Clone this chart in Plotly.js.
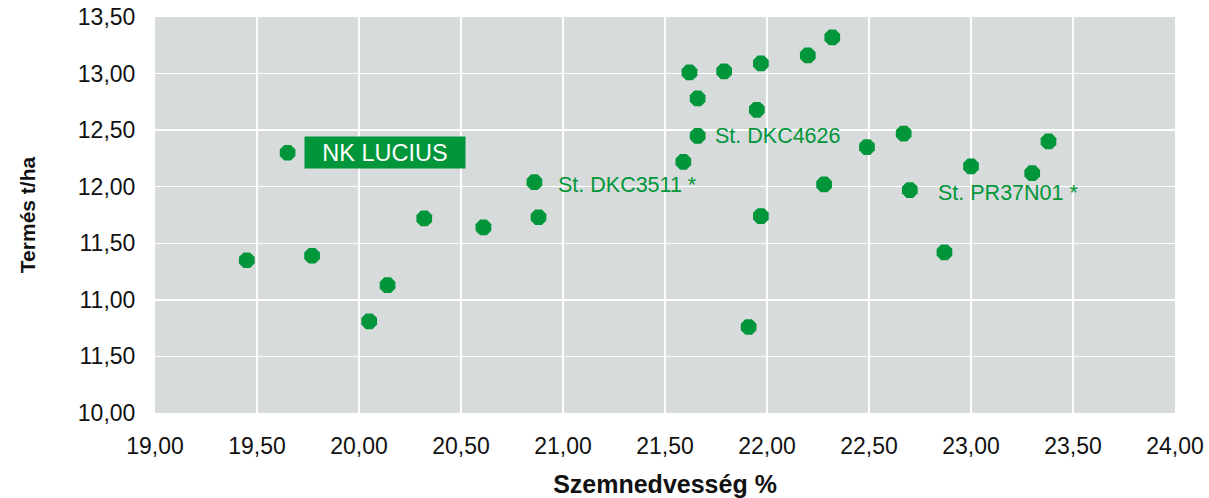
<!DOCTYPE html>
<html>
<head>
<meta charset="utf-8">
<script src="https://cdn.plot.ly/plotly-3.0.1.min.js"></script>
<style>html,body{margin:0;padding:0;background:#fff;}#chart{width:1209px;height:498px;}</style>
</head>
<body>
<div id="chart"></div>
<script>
// Szemnedvesség % (x) and Termés t/ha (y) per hybrid
const moisture = [19.45, 19.77, 19.65, 20.05, 20.14, 20.32, 20.61, 20.86, 20.88,
  21.59, 21.62, 21.79, 21.97, 21.66, 21.95, 21.66, 22.20, 22.32, 22.28, 21.97,
  22.49, 22.67, 22.70, 23.00, 23.30, 23.38, 22.87, 21.91];
const yieldT = [11.35, 11.39, 12.30, 10.81, 11.13, 11.72, 11.64, 12.04, 11.73,
  12.22, 13.01, 13.02, 13.09, 12.78, 12.68, 12.45, 13.16, 13.32, 12.02, 11.74,
  12.35, 12.47, 11.97, 12.18, 12.12, 12.40, 11.42, 10.76];

const xTickVals = [19, 19.5, 20, 20.5, 21, 21.5, 22, 22.5, 23, 23.5, 24];
const xTickText = ["19,00","19,50","20,00","20,50","21,00","21,50","22,00","22,50","23,00","23,50","24,00"];
const yTickVals = [10, 10.5, 11, 11.5, 12, 12.5, 13, 13.5];
const yTickText = ["10,00","11,50","11,00","11,50","12,00","12,50","13,00","13,50"];

// labelled hybrids
const labelNames = ["NK LUCIUS", "St. DKC3511 *", "St. DKC4626", "St. PR37N01 *"];
const labelX = [19.65, 20.86, 21.66, 22.70];
const labelY = [12.30, 12.04, 12.45, 11.97];

const green = "#009639";
const font = "'Liberation Sans', Arial, Helvetica, sans-serif";
const labelShift = [16, 22, 15, 26];
const labelYShift = [0, -3, 0, -3];

const annotations = labelNames.map((t, i) => {
  if (i === 0) {
    return {x: labelX[i], y: labelY[i], xref: 'x', yref: 'y', text: t, showarrow: false,
      xanchor: 'left', yanchor: 'middle', xshift: labelShift[i], bgcolor: green, borderpad: 0,
      width: 160, height: 31, align: 'center',
      font: {family: font, size: 23.5, color: '#ffffff'}};
  }
  return {x: labelX[i], y: labelY[i], xref: 'x', yref: 'y', text: t, showarrow: false,
    xanchor: 'left', yanchor: 'middle', xshift: labelShift[i], yshift: labelYShift[i],
    font: {family: font, size: 21.5, color: green}};
});

const trace = {
  x: moisture, y: yieldT, type: 'scatter', mode: 'markers',
  marker: {symbol: 'octagon', size: 17, color: green, line: {width: 0}},
  hoverinfo: 'x+y'
};

const layout = {
  width: 1209, height: 498,
  margin: {l: 155, r: 34, t: 17, b: 85},
  paper_bgcolor: '#ffffff', plot_bgcolor: '#d8dbdc',
  showlegend: false,
  font: {family: font, color: '#111111'},
  xaxis: {
    range: [19, 24], tickvals: xTickVals, ticktext: xTickText,
    showgrid: true, gridcolor: '#ffffff', gridwidth: 1.5, zeroline: false,
    showline: false, ticks: 'outside', ticklen: 12, tickcolor: 'rgba(0,0,0,0)',
    tickfont: {family: font, size: 23, color: '#111111'},
    title: {text: '<b>Szemnedvesség %</b>', font: {family: font, size: 25, color: '#111111'}, standoff: 20}
  },
  yaxis: {
    range: [10, 13.5], tickvals: yTickVals, ticktext: yTickText,
    showgrid: true, gridcolor: '#ffffff', gridwidth: 1.5, zeroline: false,
    showline: false, ticks: 'outside', ticklen: 14, tickcolor: 'rgba(0,0,0,0)',
    tickfont: {family: font, size: 23, color: '#111111'},
    title: {text: '<b>Termés t/ha</b>', font: {family: font, size: 21, color: '#111111'}, standoff: 36}
  },
  annotations: annotations
};

Plotly.newPlot('chart', [trace], layout, {displayModeBar: false, staticPlot: true});
</script>
</body>
</html>
